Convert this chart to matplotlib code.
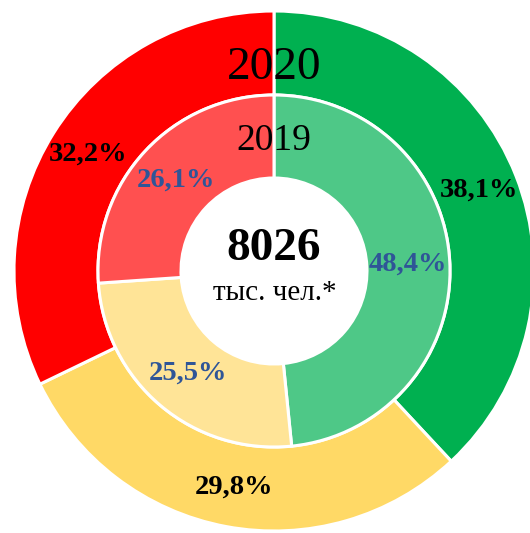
import matplotlib.pyplot as plt

plt.rcParams["font.family"] = ["Liberation Serif", "DejaVu Serif"]

# данные
groups = ["зелёный", "жёлтый", "красный"]
share_2020 = [38.1, 29.8, 32.2]
share_2019 = [48.4, 25.5, 26.1]
total = "8026"
unit = "тыс. чел.*"
years = ["2020", "2019"]

colors_2020 = ["#00B050", "#FFD966", "#FF0000"]
colors_2019 = ["#4EC887", "#FFE497", "#FF5050"]


def fmt(p):
    return ("%.1f%%" % p).replace(".", ",")


fig = plt.figure(figsize=(5.30, 5.33), dpi=100)
ax = fig.add_axes([0, 0, 1, 1])
cx, cy = 274, 262

w1, t1, a1 = ax.pie(share_2020, colors=colors_2020, startangle=90, counterclock=False,
                    radius=260, center=(cx, cy), autopct=fmt, pctdistance=0.846,
                    wedgeprops=dict(width=84, edgecolor="white", linewidth=2.2),
                    textprops=dict(fontsize=20.5, fontweight="bold", color="black"))
w2, t2, a2 = ax.pie(share_2019, colors=colors_2019, startangle=90, counterclock=False,
                    radius=176, center=(cx, cy), autopct=fmt, pctdistance=0.76,
                    wedgeprops=dict(width=83, edgecolor="white", linewidth=2.2),
                    textprops=dict(fontsize=20.5, fontweight="bold", color="#2F5597"))

ax.text(cx, cy + 203, years[0], ha="center", va="center", fontsize=34)
ax.text(cx, cy + 130, years[1], ha="center", va="center", fontsize=27)
ax.text(cx, cy + 22, total, ha="center", va="center", fontsize=34, fontweight="bold")
ax.text(cx + 1, cy - 22, unit, ha="center", va="center", fontsize=21)

ax.set_xlim(0, 530)
ax.set_ylim(0, 533)
ax.set_aspect("equal")
ax.axis("off")

plt.savefig("out.png", dpi=100)
